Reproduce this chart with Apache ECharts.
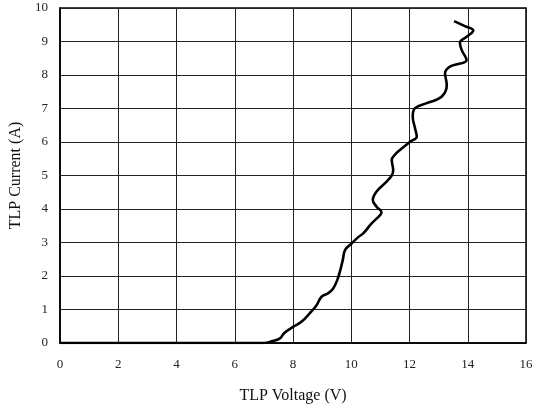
<!DOCTYPE html>
<html><head><meta charset="utf-8">
<script src="https://cdn.jsdelivr.net/npm/echarts@6/dist/echarts.min.js"></script>
<style>html,body{margin:0;padding:0;background:#fff}#c{width:536px;height:412px}</style>
</head><body><div id="c"></div>
<script>
var voltage = [0,7.0,7.27,7.55,7.7,8.0,8.3,8.58,8.81,8.98,9.2,9.38,9.52,9.61,9.71,9.79,10.01,10.24,10.41,10.70,10.99,11.04,10.87,10.74,10.87,11.16,11.39,11.44,11.39,11.50,11.67,12.02,12.25,12.19,12.11,12.19,12.59,13.10,13.28,13.22,13.39,13.96,13.79,13.73,13.96,14.19,13.90,13.53];
var current = [0,0,0.05,0.14,0.3,0.48,0.64,0.89,1.13,1.38,1.48,1.63,1.88,2.13,2.48,2.78,2.97,3.16,3.27,3.57,3.82,3.9,4.07,4.27,4.52,4.77,5.0,5.16,5.46,5.62,5.76,6.01,6.16,6.41,6.76,7.01,7.16,7.35,7.70,8.05,8.25,8.45,8.75,8.96,9.14,9.33,9.46,9.61];
var xName = 'TLP Voltage (V)';
var yName = 'TLP Current (A)';
var pts = voltage.map(function(v,i){return [v,current[i]];});
var font = 'Liberation Serif, Times New Roman, serif';
var chart = echarts.init(document.getElementById('c'));
chart.setOption({
  animation:false,
  grid:{left:60,right:10,top:8,bottom:69,show:true,borderColor:'#000',borderWidth:1.5},
  xAxis:{type:'value',min:0,max:16,interval:2,name:xName,nameLocation:'middle',nameGap:45,
    nameTextStyle:{fontFamily:font,fontSize:16,color:'#111'},
    axisLine:{show:true,lineStyle:{color:'#000',width:1.5}},axisTick:{show:false},
    axisLabel:{fontFamily:font,fontSize:13,color:'#222',margin:15},
    splitLine:{show:true,lineStyle:{color:'#222',width:1}}},
  yAxis:{type:'value',min:0,max:10,interval:1,name:yName,nameLocation:'middle',nameGap:34,
    nameTextStyle:{fontFamily:font,fontSize:16,color:'#111'},
    axisLine:{show:true,lineStyle:{color:'#000',width:1.5}},axisTick:{show:false},
    axisLabel:{fontFamily:font,fontSize:13,color:'#222',margin:12},
    splitLine:{show:true,lineStyle:{color:'#222',width:1}}},
  series:[{type:'line',data:pts,showSymbol:false,smooth:0.4,smoothMonotone:'none',
    lineStyle:{color:'#000',width:2.6},itemStyle:{color:'#000'}}]
});
</script></body></html>
